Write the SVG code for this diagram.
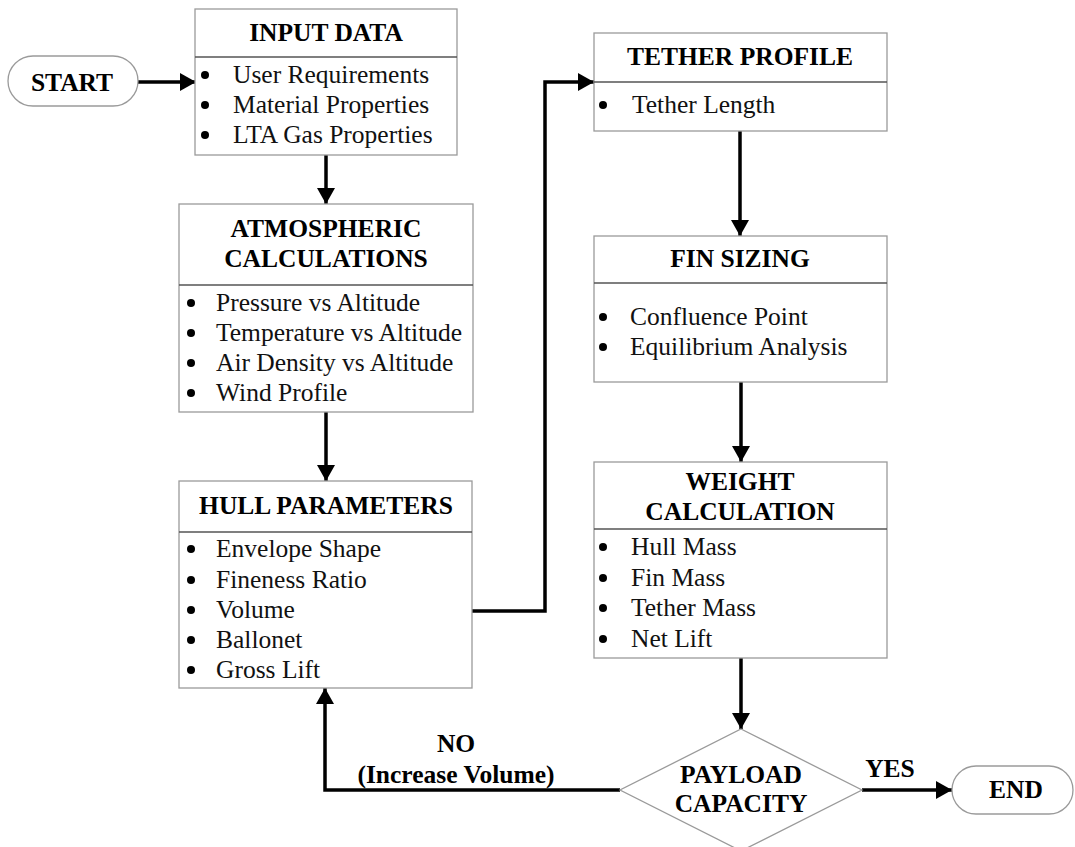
<svg xmlns="http://www.w3.org/2000/svg" width="1075" height="847" viewBox="0 0 1075 847">
<defs>
<style>
.box{fill:#fff;stroke:#9a9a9a;stroke-width:1.3}
.div{stroke:#555;stroke-width:1.3}
.t{font-family:"Liberation Serif","Times New Roman",serif;font-size:25.5px;font-weight:bold;text-anchor:middle;fill:#000}
.b{font-family:"Liberation Serif","Times New Roman",serif;font-size:25.5px;fill:#111}
.bu{fill:#000}
.c{fill:none;stroke:#000;stroke-width:3.5}
</style>
<marker id="ah" markerUnits="userSpaceOnUse" markerWidth="16" markerHeight="18" refX="16" refY="9" orient="auto">
<path d="M0,0 L16,9 L0,18 Z" fill="#000"/>
</marker>
</defs>
<rect width="1075" height="847" fill="#fff"/>

<g id="connectors">
<line class="c" x1="138" y1="82" x2="196" y2="82" marker-end="url(#ah)"/>
<line class="c" x1="326" y1="155" x2="326" y2="204" marker-end="url(#ah)"/>
<line class="c" x1="326" y1="412" x2="326" y2="481" marker-end="url(#ah)"/>
<polyline class="c" points="472,611 545,611 545,82 594,82" marker-end="url(#ah)"/>
<line class="c" x1="740" y1="131" x2="740" y2="236" marker-end="url(#ah)"/>
<line class="c" x1="741" y1="382" x2="741" y2="462" marker-end="url(#ah)"/>
<line class="c" x1="741" y1="658" x2="741" y2="729" marker-end="url(#ah)"/>
<polyline class="c" points="620,790 325,790 325,688" marker-end="url(#ah)"/>
<line class="c" x1="862" y1="790" x2="952" y2="790" marker-end="url(#ah)"/>
<text class="t" x="456" y="752">NO</text>
<text class="t" x="456" y="783">(Increase Volume)</text>
<text class="t" x="890" y="777">YES</text>
</g>

<g id="start">
<rect class="box" x="8" y="56" width="130" height="50" rx="25"/>
<text class="t" x="72" y="91">START</text>
</g>

<g id="input-data">
<rect class="box" x="195" y="9" width="262" height="146"/>
<line class="div" x1="195" y1="57" x2="457" y2="57"/>
<text class="t" x="326" y="41">INPUT DATA</text>
<circle class="bu" cx="205" cy="75" r="4"/><text class="b" x="233" y="83">User Requirements</text>
<circle class="bu" cx="205" cy="105" r="4"/><text class="b" x="233" y="113">Material Properties</text>
<circle class="bu" cx="205" cy="135" r="4"/><text class="b" x="233" y="143">LTA Gas Properties</text>
</g>

<g id="atmospheric">
<rect class="box" x="179" y="204" width="294" height="208"/>
<line class="div" x1="179" y1="285" x2="473" y2="285"/>
<text class="t" x="326" y="237">ATMOSPHERIC</text>
<text class="t" x="326" y="267">CALCULATIONS</text>
<circle class="bu" cx="191" cy="303" r="4"/><text class="b" x="216" y="311">Pressure vs Altitude</text>
<circle class="bu" cx="191" cy="333" r="4"/><text class="b" x="216" y="341">Temperature vs Altitude</text>
<circle class="bu" cx="191" cy="363" r="4"/><text class="b" x="216" y="371">Air Density vs Altitude</text>
<circle class="bu" cx="191" cy="393" r="4"/><text class="b" x="216" y="401">Wind Profile</text>
</g>

<g id="hull">
<rect class="box" x="179" y="481" width="293" height="207"/>
<line class="div" x1="179" y1="532" x2="472" y2="532"/>
<text class="t" x="326" y="514">HULL PARAMETERS</text>
<circle class="bu" cx="191" cy="549" r="4"/><text class="b" x="216" y="557">Envelope Shape</text>
<circle class="bu" cx="191" cy="580" r="4"/><text class="b" x="216" y="588">Fineness Ratio</text>
<circle class="bu" cx="191" cy="610" r="4"/><text class="b" x="216" y="618">Volume</text>
<circle class="bu" cx="191" cy="640" r="4"/><text class="b" x="216" y="648">Ballonet</text>
<circle class="bu" cx="191" cy="670" r="4"/><text class="b" x="216" y="678">Gross Lift</text>
</g>

<g id="tether">
<rect class="box" x="594" y="33" width="293" height="98"/>
<line class="div" x1="594" y1="82" x2="887" y2="82"/>
<text class="t" x="740" y="65">TETHER PROFILE</text>
<circle class="bu" cx="603" cy="105" r="4"/><text class="b" x="632" y="113">Tether Length</text>
</g>

<g id="fin">
<rect class="box" x="594" y="236" width="293" height="146"/>
<line class="div" x1="594" y1="283" x2="887" y2="283"/>
<text class="t" x="740" y="267">FIN SIZING</text>
<circle class="bu" cx="603" cy="317" r="4"/><text class="b" x="630" y="325">Confluence Point</text>
<circle class="bu" cx="603" cy="347" r="4"/><text class="b" x="630" y="355">Equilibrium Analysis</text>
</g>

<g id="weight">
<rect class="box" x="594" y="462" width="293" height="196"/>
<line class="div" x1="594" y1="529" x2="887" y2="529"/>
<text class="t" x="740" y="490">WEIGHT</text>
<text class="t" x="740" y="520">CALCULATION</text>
<circle class="bu" cx="603" cy="547" r="4"/><text class="b" x="631" y="555">Hull Mass</text>
<circle class="bu" cx="603" cy="578" r="4"/><text class="b" x="631" y="586">Fin Mass</text>
<circle class="bu" cx="603" cy="608" r="4"/><text class="b" x="631" y="616">Tether Mass</text>
<circle class="bu" cx="603" cy="639" r="4"/><text class="b" x="631" y="647">Net Lift</text>
</g>

<g id="payload">
<polygon class="box" points="741,729 862,790 741,851 620,790"/>
<text class="t" x="741" y="783">PAYLOAD</text>
<text class="t" x="741" y="812">CAPACITY</text>
</g>

<g id="end">
<rect class="box" x="952" y="766" width="121" height="48" rx="24"/>
<text class="t" x="1016" y="798">END</text>
</g>
</svg>
